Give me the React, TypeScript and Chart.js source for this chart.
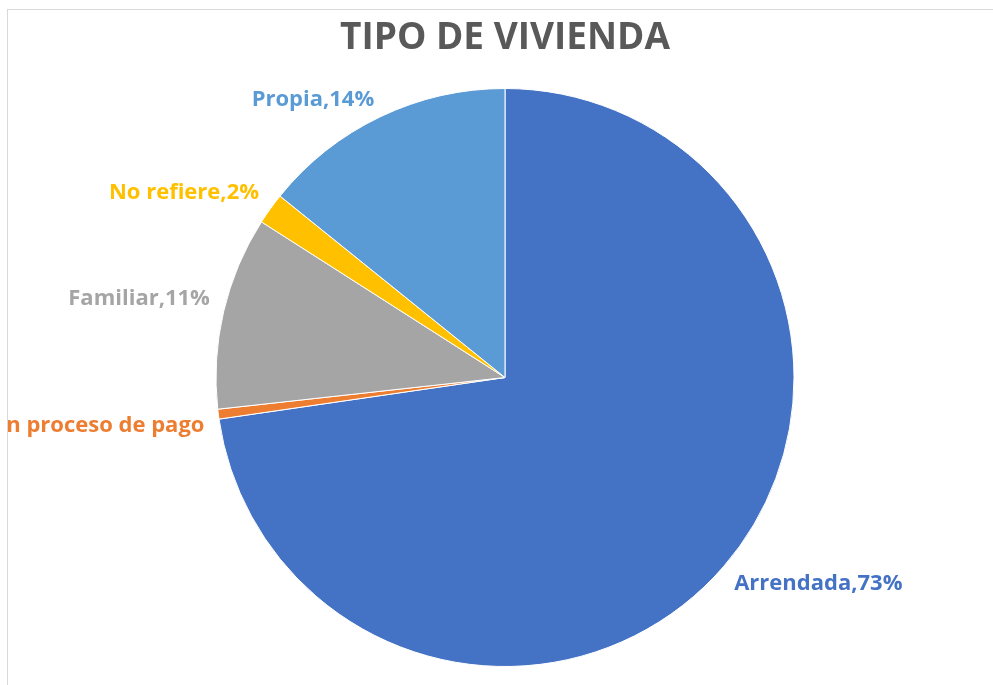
import React, { useEffect, useRef } from "react";
import { Chart, registerables } from "chart.js";

Chart.register(...registerables);

const TITLE = "TIPO DE VIVIENDA";
const categories = ["Arrendada", "En proceso de pago", "Familiar", "No refiere", "Propia"];
const shares = [72.7, 0.55, 10.8, 1.75, 14.2];
const labelTexts = ["Arrendada,73%", "En proceso de pago", "Familiar,11%", "No refiere,2%", "Propia,14%"];
const colors = ["#4472C4", "#ED7D31", "#A5A5A5", "#FFC000", "#5B9BD5"];

const FONT = '"Open Sans", "DejaVu Sans", sans-serif';

const labelPlugin = {
  id: "pieLabels",
  afterDatasetsDraw(chart: any) {
    const ctx = chart.ctx;
    const meta = chart.getDatasetMeta(0);
    ctx.save();
    ctx.font = `bold 22px ${FONT}`;
    ctx.textBaseline = "middle";
    meta.data.forEach((arc: any, i: number) => {
      const { x, y, startAngle, endAngle, outerRadius } = arc.getProps(
        ["x", "y", "startAngle", "endAngle", "outerRadius"],
        true
      );
      const mid = (startAngle + endAngle) / 2;
      const r = outerRadius + 14;
      const c = Math.cos(mid);
      const s = Math.sin(mid);
      const ax = x + c * r;
      // push labels slightly away from the horizontal axis (like Excel's best fit)
      const ay = y + s * r + Math.sign(s) * Math.abs(c) * 10;
      ctx.fillStyle = colors[i];
      ctx.textAlign = c >= 0 ? "left" : "right";
      ctx.fillText(labelTexts[i], ax, ay);
    });
    // title
    const cx = (chart.chartArea.left + chart.chartArea.right) / 2;
    ctx.font = `bold 37px ${FONT}`;
    ctx.fillStyle = "#595959";
    ctx.textAlign = "center";
    ctx.fillText(TITLE, cx, 28);
    ctx.restore();
  },
};

export default function App() {
  const ref = useRef<HTMLCanvasElement>(null);
  useEffect(() => {
    if (!ref.current) return;
    const chart = new Chart(ref.current, {
      type: "pie",
      data: {
        labels: categories,
        datasets: [
          {
            data: shares,
            backgroundColor: colors,
            borderColor: "#ffffff",
            borderWidth: 1,
          },
        ],
      },
      options: {
        animation: false,
        responsive: false,
        layout: { padding: { top: 78, bottom: 18, left: 9, right: 0 } },
        plugins: {
          legend: { display: false },
          tooltip: { enabled: false },
          title: { display: false },
        },
      },
      plugins: [labelPlugin],
    });
    return () => chart.destroy();
  }, []);
  return (
    <div
      style={{
        position: "absolute",
        left: 7,
        top: 9,
        width: 986,
        height: 676,
        boxSizing: "border-box",
        borderLeft: "1px solid #d9d9d9",
        borderTop: "1px solid #d9d9d9",
        background: "#ffffff",
      }}
    >
      <canvas ref={ref} width={985} height={675} style={{ display: "block" }} />
    </div>
  );
}
